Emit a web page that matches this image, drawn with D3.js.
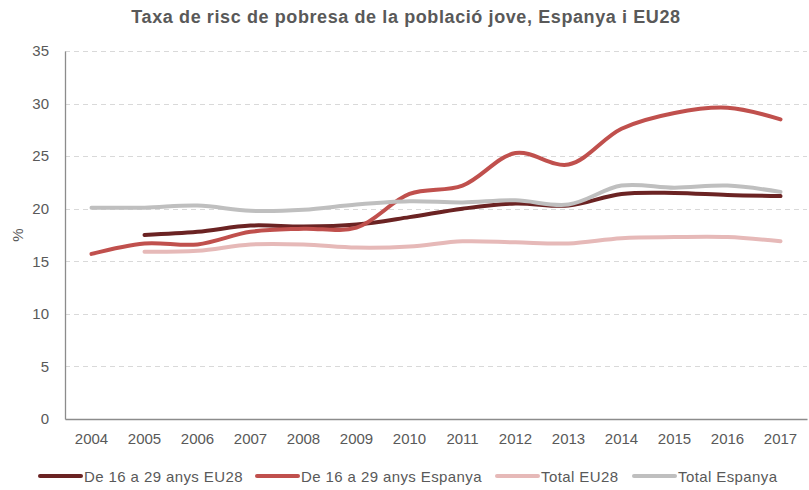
<!DOCTYPE html>
<html>
<head>
<meta charset="utf-8">
<script src="https://cdn.jsdelivr.net/npm/d3@7"></script>
<style>
  body { margin: 0; background: #fff; }
  text { font-family: "Liberation Sans", Arial, sans-serif; fill: #595959; }
</style>
</head>
<body>
<div id="chart"></div>
<script>
var years = ['2004','2005','2006','2007','2008','2009','2010','2011','2012','2013','2014','2015','2016','2017'];
var joveEU28 = [null, 17.5, 17.8, 18.4, 18.3, 18.5, 19.2, 20.0, 20.5, 20.3, 21.4, 21.5, 21.3, 21.2];
var joveEspanya = [15.7, 16.7, 16.6, 17.8, 18.1, 18.2, 21.4, 22.2, 25.3, 24.2, 27.6, 29.1, 29.6, 28.5];
var totalEU28 = [null, 15.9, 16.0, 16.6, 16.6, 16.3, 16.4, 16.9, 16.8, 16.7, 17.2, 17.3, 17.3, 16.9];
var totalEspanya = [20.1, 20.1, 20.3, 19.8, 19.9, 20.4, 20.7, 20.6, 20.8, 20.4, 22.2, 22.0, 22.2, 21.6];
var yTicks = [0, 5, 10, 15, 20, 25, 30, 35];

var series = [
    { name: 'De 16 a 29 anys EU28', values: joveEU28, color: '#6b2323' },
    { name: 'De 16 a 29 anys Espanya', values: joveEspanya, color: '#c0504d' },
    { name: 'Total EU28', values: totalEU28, color: '#e6b9b8' },
    { name: 'Total Espanya', values: totalEspanya, color: '#bfbfbf' }
];

var _width = 809, _height = 490;
var margin = { left: 65, right: 2, top: 51, bottom: 71 };

var svg = d3.select('#chart').append('svg')
    .attr('width', _width)
    .attr('height', _height);

var x = d3.scaleBand()
    .domain(years)
    .range([margin.left, _width - margin.right]);

var y = d3.scaleLinear()
    .domain([0, 35])
    .range([_height - margin.bottom, margin.top]);

// titol
svg.append('text')
    .attr('x', 406)
    .attr('y', 23)
    .attr('text-anchor', 'middle')
    .attr('font-size', 18)
    .attr('font-weight', 'bold')
    .style('letter-spacing', '0.6px')
    .text('Taxa de risc de pobresa de la població jove, Espanya i EU28');

// graella
svg.append('g')
    .selectAll('line')
    .data(yTicks.filter(function (d) { return d > 0; }))
    .enter().append('line')
    .attr('x1', margin.left)
    .attr('x2', _width - margin.right)
    .attr('y1', function (d) { return Math.round(y(d)) + 0.5; })
    .attr('y2', function (d) { return Math.round(y(d)) + 0.5; })
    .style('stroke', '#d9d9d9')
    .style('stroke-width', 1.2)
    .style('stroke-dasharray', '5,4');

// eix Y
var yAxis = svg.append('g')
    .attr('transform', 'translate(' + margin.left + ',0)')
    .call(d3.axisLeft(y).tickValues(yTicks).tickSize(0).tickPadding(16));
yAxis.select('.domain').style('stroke', '#8c8c8c').style('stroke-width', 1.3);
yAxis.selectAll('text').attr('font-size', 15).style('font-family', '"Liberation Sans", Arial, sans-serif').style('fill', '#595959');

// eix X
var xAxis = svg.append('g')
    .attr('transform', 'translate(0,' + (_height - margin.bottom) + ')')
    .call(d3.axisBottom(x).tickSize(0).tickPadding(14));
xAxis.select('.domain').style('stroke', '#8c8c8c').style('stroke-width', 1.3);
xAxis.selectAll('text').attr('font-size', 15).style('font-family', '"Liberation Sans", Arial, sans-serif').style('fill', '#595959');

svg.append('text')
    .attr('transform', 'translate(23,' + y(17.5) + ')rotate(-90)')
    .attr('text-anchor', 'middle')
    .attr('font-size', 15)
    .text('%');

// linies
var line = d3.line()
    .defined(function (d) { return d.v !== null; })
    .x(function (d) { return x(d.year) + x.bandwidth() / 2; })
    .y(function (d) { return y(d.v); })
    .curve(d3.curveCatmullRom.alpha(0.5));

series.forEach(function (s) {
    var pts = years.map(function (yr, i) { return { year: yr, v: s.values[i] }; });
    svg.append('path')
        .datum(pts)
        .attr('d', line)
        .style('fill', 'none')
        .style('stroke', s.color)
        .style('stroke-width', 4)
        .style('stroke-linecap', 'round')
        .style('stroke-linejoin', 'round');
});

// llegenda
var legendX = [40, 257, 497, 634];
var legend = svg.append('g');
series.forEach(function (s, i) {
    var g = legend.append('g').attr('transform', 'translate(' + legendX[i] + ',476)');
    g.append('line')
        .attr('x1', 0).attr('x2', 41)
        .style('stroke', s.color)
        .style('stroke-width', 4)
        .style('stroke-linecap', 'round');
    g.append('text')
        .attr('x', 44)
        .attr('y', 5.5)
        .attr('font-size', 15)
        .style('letter-spacing', '0.4px')
        .text(s.name);
});
</script>
</body>
</html>
